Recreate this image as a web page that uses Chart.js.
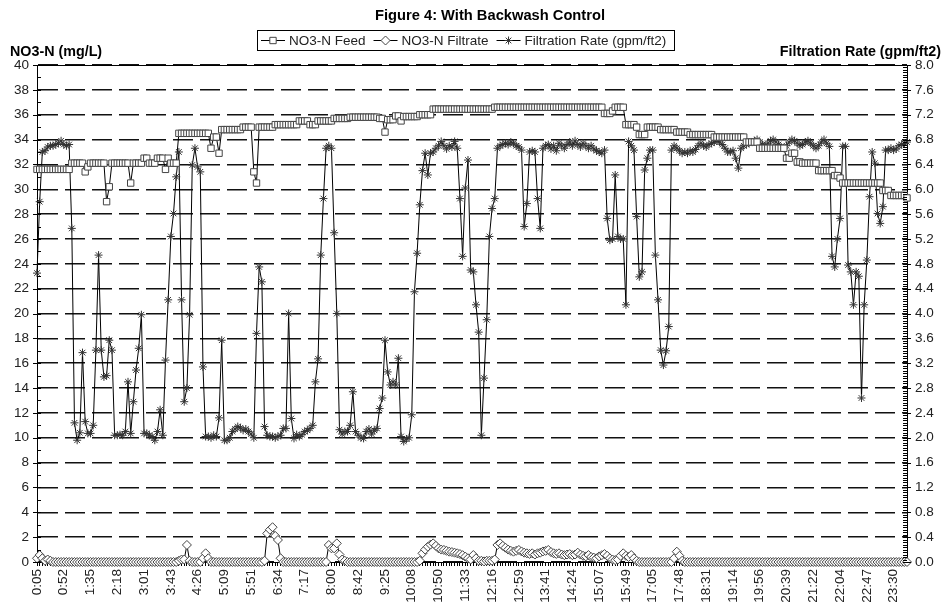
<!DOCTYPE html>
<html>
<head>
<meta charset="utf-8">
<title>Figure 4: With Backwash Control</title>
<script src="https://cdn.jsdelivr.net/npm/chart.js@4.4.1/dist/chart.umd.min.js"></script>
<style>
  html, body { margin: 0; padding: 0; background: #fff; }
  #wrap { width: 942px; height: 611px; }
</style>
</head>
<body>
<div id="wrap"><canvas id="chart" width="942" height="611"></canvas></div>
<script>
// Figure 4 — NO3-N in feed and filtrate plus filtration rate over one day, backwash control on.

const TXT = "#222";
const FONT = "'Liberation Sans', Arial, sans-serif";

// one time label is printed for every ten samples
const LABEL_EVERY = 10;
const TICK_LABELS = [
  "0:05", "0:52", "1:35", "2:18", "3:01", "3:43", "4:26", "5:09", "5:51", "6:34",
  "7:17", "8:00", "8:42", "9:25", "10:08", "10:50", "11:33", "12:16", "12:59", "13:41",
  "14:24", "15:07", "15:49", "17:05", "17:48", "18:31", "19:14", "19:56", "20:39", "21:22",
  "22:04", "22:47", "23:30",
];

// NO3-N feed, mg/L (left axis)
const FEED = [
  31.6, 31.6, 31.6, 31.6, 31.6, 31.6, 31.6, 31.6, 31.6, 31.6,
  31.6, 31.6, 31.6, 32.1, 32.1, 32.1, 32.1, 32.1, 31.4, 31.8,
  32.1, 32.1, 32.1, 32.1, 32.1, 32.1, 29.0, 30.2, 32.1, 32.1,
  32.1, 32.1, 32.1, 32.1, 32.1, 30.5, 32.1, 32.1, 32.1, 32.1,
  32.5, 32.5, 32.1, 32.1, 32.1, 32.5, 32.5, 32.5, 31.6, 32.5,
  32.1, 32.1, 32.1, 34.5, 34.5, 34.5, 34.5, 34.5, 34.5, 34.5,
  34.5, 34.5, 34.5, 34.5, 34.5, 33.3, 34.2, 34.2, 32.9, 34.8,
  34.8, 34.8, 34.8, 34.8, 34.8, 34.8, 34.8, 35.0, 35.0, 35.0,
  35.0, 31.4, 30.5, 35.0, 35.0, 35.0, 35.0, 35.0, 35.0, 35.2,
  35.2, 35.2, 35.2, 35.2, 35.2, 35.2, 35.2, 35.2, 35.5, 35.5,
  35.5, 35.5, 35.2, 35.2, 35.2, 35.5, 35.5, 35.5, 35.5, 35.5,
  35.5, 35.7, 35.7, 35.7, 35.7, 35.7, 35.7, 35.8, 35.8, 35.8,
  35.8, 35.8, 35.8, 35.8, 35.8, 35.8, 35.8, 35.8, 35.7, 35.7,
  34.6, 35.6, 35.6, 35.6, 35.9, 35.9, 35.5, 35.85, 35.85, 35.85,
  35.85, 35.85, 35.85, 36.0, 36.0, 36.0, 36.0, 36.0, 36.45, 36.45,
  36.45, 36.45, 36.45, 36.45, 36.45, 36.45, 36.45, 36.45, 36.45, 36.45,
  36.45, 36.45, 36.45, 36.45, 36.45, 36.45, 36.45, 36.45, 36.45, 36.45,
  36.45, 36.6, 36.6, 36.6, 36.6, 36.6, 36.6, 36.6, 36.6, 36.6,
  36.6, 36.6, 36.6, 36.6, 36.6, 36.6, 36.6, 36.6, 36.6, 36.6,
  36.6, 36.6, 36.6, 36.6, 36.6, 36.6, 36.6, 36.6, 36.6, 36.6,
  36.6, 36.6, 36.6, 36.6, 36.6, 36.6, 36.6, 36.6, 36.6, 36.6,
  36.6, 36.6, 36.1, 36.1, 36.1, 36.3, 36.6, 36.6, 36.6, 36.6,
  35.2, 35.2, 35.2, 35.2, 35.0, 34.4, 34.4, 34.4, 35.0, 35.0,
  35.0, 35.0, 35.0, 34.8, 34.8, 34.8, 34.8, 34.8, 34.8, 34.6,
  34.6, 34.6, 34.6, 34.6, 34.4, 34.4, 34.4, 34.4, 34.4, 34.4,
  34.4, 34.4, 34.4, 34.2, 34.2, 34.2, 34.2, 34.2, 34.2, 34.2,
  34.2, 34.2, 34.2, 34.2, 34.2, 33.8, 33.8, 33.8, 33.8, 33.8,
  33.3, 33.3, 33.3, 33.3, 33.3, 33.3, 33.3, 33.3, 33.3, 33.3,
  32.5, 32.5, 32.9, 32.9, 32.2, 32.2, 32.1, 32.1, 32.1, 32.1,
  32.1, 32.1, 31.5, 31.5, 31.5, 31.5, 31.5, 31.5, 31.1, 31.1,
  30.9, 30.5, 30.5, 30.5, 30.5, 30.5, 30.5, 30.5, 30.5, 30.5,
  30.5, 30.5, 30.5, 30.5, 30.5, 30.5, 29.9, 29.9, 29.9, 29.5,
  29.5, 29.5, 29.5, 29.5, 29.5, 29.3,
];

// NO3-N filtrate, mg/L (left axis)
const FILTRATE = [
  0.3, 0.56, 0.3, 0.1, 0.2, 0.1, 0, 0, 0, 0,
  0, 0, 0, 0, 0, 0, 0, 0, 0, 0,
  0, 0, 0, 0, 0, 0, 0, 0, 0, 0,
  0, 0, 0, 0, 0, 0, 0, 0, 0, 0,
  0, 0, 0, 0, 0, 0, 0, 0, 0, 0,
  0, 0, 0, 0.1, 0.2, 0.2, 1.37, 0.1, 0, 0,
  0, 0, 0.3, 0.7, 0.3, 0, 0, 0, 0, 0,
  0, 0, 0, 0, 0, 0, 0, 0, 0, 0,
  0, 0, 0, 0, 0, 0.1, 2.3, 2.6, 2.8, 2.1,
  1.77, 0.3, 0, 0, 0, 0, 0, 0, 0, 0,
  0, 0, 0, 0, 0, 0, 0, 0, 0, 1.37,
  1.1, 1.1, 1.5, 0.6, 0.2, 0.1, 0, 0, 0, 0,
  0, 0, 0, 0, 0, 0, 0, 0, 0, 0,
  0, 0, 0, 0, 0, 0, 0, 0, 0, 0,
  0, 0, 0, 0.1, 0.7, 1.0, 1.23, 1.4, 1.5, 1.3,
  1.1, 1.0, 0.97, 0.9, 0.83, 0.8, 0.75, 0.7, 0.64, 0.55,
  0.43, 0.3, 0.2, 0.56, 0.3, 0.1, 0.1, 0.05, 0.1, 0.1,
  0.1, 0.2, 1.37, 1.5, 1.3, 1.15, 1.0, 0.9, 0.83, 0.9,
  0.97, 0.85, 0.75, 0.7, 0.65, 0.7, 0.6, 0.7, 0.75, 0.85,
  0.9, 0.97, 0.8, 0.7, 0.65, 0.7, 0.6, 0.55, 0.6, 0.64,
  0.55, 0.6, 0.75, 0.6, 0.5, 0.45, 0.56, 0.4, 0.35, 0.3,
  0.45, 0.55, 0.64, 0.5, 0.3, 0.2, 0.15, 0.2, 0.5, 0.7,
  0.5, 0.4, 0.56, 0.3, 0.1, 0, 0, 0, 0, 0,
  0, 0, 0, 0, 0, 0, 0, 0, 0.3, 0.83,
  0.5, 0.1, 0, 0, 0, 0, 0, 0, 0, 0,
  0, 0, 0, 0, 0, 0, 0, 0, 0, 0,
  0, 0, 0, 0, 0, 0, 0, 0, 0, 0,
  0, 0, 0, 0, 0, 0, 0, 0, 0, 0,
  0, 0, 0, 0, 0, 0, 0, 0, 0, 0,
  0, 0, 0, 0, 0, 0, 0, 0, 0, 0,
  0, 0, 0, 0, 0, 0, 0, 0, 0, 0,
  0, 0, 0, 0, 0, 0, 0, 0, 0, 0,
  0, 0, 0, 0, 0, 0,
];

// filtration rate, gpm/ft2 (right axis)
const RATE = [
  4.65, 5.8, 6.6, 6.62, 6.68, 6.7, 6.7, 6.72, 6.74, 6.78,
  6.72, 6.7, 6.72, 5.37, 2.24, 1.96, 2.08, 3.37, 2.26, 2.07,
  2.07, 2.2, 3.41, 4.94, 3.41, 2.98, 3.0, 3.57, 3.41, 2.04,
  2.04, 2.05, 2.04, 2.1, 2.9, 2.07, 2.58, 3.09, 3.44, 3.98,
  2.07, 2.07, 2.04, 2.02, 1.96, 2.1, 2.45, 2.04, 3.25, 4.22,
  5.24, 5.61, 6.2, 6.6, 4.22, 2.58, 2.8, 3.98, 6.39, 6.66,
  6.36, 6.28, 3.14, 2.02, 2.02, 2.0, 2.04, 2.02, 2.32, 3.57,
  1.96, 1.96, 2.0, 2.1, 2.14, 2.18, 2.16, 2.12, 2.14, 2.1,
  2.06, 2.0, 3.68, 4.75, 4.51, 2.18, 2.04, 2.02, 2.02, 2.0,
  2.02, 2.04, 2.15, 2.15, 4.0, 2.31, 1.99, 2.05, 2.02, 2.05,
  2.1, 2.12, 2.15, 2.2, 2.9, 3.27, 4.94, 5.85, 6.66, 6.7,
  6.66, 5.3, 4.0, 2.13, 2.06, 2.1, 2.1, 2.2, 2.74, 2.1,
  2.04, 2.0, 1.99, 2.1, 2.14, 2.06, 2.12, 2.15, 2.47, 2.64,
  3.57, 3.06, 2.85, 2.9, 2.85, 3.28, 2.02, 1.94, 1.98, 2.0,
  2.37, 4.35, 4.97, 5.75, 6.3, 6.58, 6.23, 6.58, 6.6, 6.66,
  6.7, 6.77, 6.7, 6.65, 6.7, 6.68, 6.77, 6.66, 5.85, 4.92,
  6.02, 6.47, 4.7, 4.67, 4.14, 3.7, 2.04, 2.96, 3.9, 5.24,
  5.69, 5.85, 6.66, 6.7, 6.72, 6.74, 6.72, 6.76, 6.74, 6.7,
  6.68, 6.63, 5.4, 5.77, 6.6, 6.62, 6.6, 5.85, 5.37, 6.66,
  6.7, 6.72, 6.65, 6.7, 6.62, 6.74, 6.7, 6.66, 6.72, 6.76,
  6.7, 6.78, 6.72, 6.68, 6.74, 6.7, 6.66, 6.7, 6.65, 6.62,
  6.6, 6.58, 6.63, 5.53, 5.18, 5.2, 6.23, 5.24, 5.2, 5.2,
  4.14, 6.77, 6.7, 6.63, 5.56, 4.59, 4.67, 6.31, 6.5, 6.63,
  6.63, 4.94, 4.22, 3.41, 3.17, 3.4, 3.79, 6.63, 6.7, 6.66,
  6.62, 6.58, 6.6, 6.58, 6.62, 6.6, 6.64, 6.7, 6.74, 6.7,
  6.68, 6.72, 6.74, 6.76, 6.78, 6.76, 6.72, 6.66, 6.6, 6.6,
  6.62, 6.5, 6.34, 6.66, 6.7, 6.72, 6.74, 6.76, 6.78, 6.8,
  6.76, 6.72, 6.7, 6.74, 6.78, 6.8, 6.76, 6.72, 6.68, 6.66,
  6.7, 6.76, 6.8, 6.78, 6.74, 6.7, 6.72, 6.76, 6.78, 6.74,
  6.7, 6.66, 6.7, 6.76, 6.8, 6.74, 6.69, 4.92, 4.75, 5.2,
  5.53, 6.69, 6.69, 4.78, 4.67, 4.14, 4.67, 4.6, 2.64, 4.14,
  4.86, 5.88, 6.6, 6.42, 5.61, 5.45, 5.72, 6.63, 6.63, 6.66,
  6.63, 6.65, 6.7, 6.72, 6.74, 6.76,
];

// category list: a time label on every tenth sample, blank otherwise
const CATEGORIES = FEED.map((_, i) => (i % LABEL_EVERY === 0 ? TICK_LABELS[i / LABEL_EVERY] || "" : ""));

function markerSample(ctx, ds, x, y, half) {
  ctx.save();
  ctx.strokeStyle = "#000";
  ctx.lineWidth = 1;
  ctx.beginPath();
  ctx.moveTo(x - half, y + 0.5);
  ctx.lineTo(x + half, y + 0.5);
  ctx.stroke();
  ctx.fillStyle = ds.pointBackgroundColor;
  ctx.strokeStyle = ds.pointBorderColor;
  ctx.lineWidth = ds.pointBorderWidth;
  Chart.helpers.drawPoint(ctx, { pointStyle: ds.pointStyle, radius: ds.pointRadius, rotation: 0, borderWidth: 1 }, x, y + 0.5);
  ctx.restore();
}

const decor = {
  id: "decor",
  afterDraw(chart) {
    const { ctx, chartArea: a, scales } = chart;
    ctx.save();

    // solid frame line along the top value (40 / 8.0)
    ctx.strokeStyle = "#000";
    ctx.lineWidth = 1;
    ctx.beginPath();
    ctx.moveTo(a.left, Math.round(a.top) + 0.5);
    ctx.lineTo(a.right, Math.round(a.top) + 0.5);
    ctx.stroke();

    // tick marks on both value axes
    const yl = scales.y, yr = scales.y1;
    ctx.beginPath();
    for (let v = 0; v <= 40; v += 1) {
      const py = Math.round(yl.getPixelForValue(v)) + 0.5;
      const major = v % 2 === 0;
      ctx.moveTo(a.left - (major ? 4 : 0), py);
      ctx.lineTo(a.left + 4, py);
    }
    for (let k = 0; k <= 200; k++) {
      const py = Math.round(yr.getPixelForValue(k * 0.04)) + 0.5;
      const major = k % 10 === 0;
      ctx.moveTo(a.right - 4, py);
      ctx.lineTo(a.right + (major ? 4 : 0), py);
    }
    ctx.stroke();

    // title and axis titles
    ctx.fillStyle = "#000";
    ctx.textBaseline = "alphabetic";
    ctx.font = "bold 14.7px " + FONT;
    ctx.textAlign = "center";
    ctx.fillText("Figure 4: With Backwash Control", 490, 20);
    ctx.font = "bold 14.3px " + FONT;
    ctx.textAlign = "left";
    ctx.fillText("NO3-N (mg/L)", 10, 56);
    ctx.textAlign = "right";
    ctx.fillText("Filtration Rate (gpm/ft2)", 941, 56);

    // legend box
    ctx.font = "13.5px " + FONT;
    const sets = chart.data.datasets;
    const sampleW = 30, gap = 6;
    let total = 4;
    for (const ds of sets) total += sampleW + ctx.measureText(ds.label).width + gap;
    const bx = Math.round(466 - total / 2), by = 30, bh = 20;
    ctx.strokeStyle = "#000";
    ctx.lineWidth = 1;
    ctx.strokeRect(bx + 0.5, by + 0.5, Math.round(total), bh);
    let x = bx + 3;
    const cy = by + bh / 2;
    for (const ds of sets) {
      markerSample(ctx, ds, x + 13, cy, 12);
      x += sampleW;
      ctx.fillStyle = TXT;
      ctx.textAlign = "left";
      ctx.textBaseline = "middle";
      ctx.fillText(ds.label, x - 1, cy + 1);
      x += ctx.measureText(ds.label).width + gap;
    }
    ctx.restore();
  },
};

const tickFont = { family: FONT, size: 13.5 };

new Chart(document.getElementById("chart"), {
  type: "line",
  data: {
    labels: CATEGORIES,
    datasets: [
      {
        label: "NO3-N Feed",
        data: FEED,
        yAxisID: "y",
        borderColor: "#000",
        borderWidth: 1,
        pointStyle: "rect",
        pointRadius: 4.5,
        pointBorderWidth: 1,
        pointBorderColor: "#444",
        pointBackgroundColor: "#fff",
        tension: 0,
        clip: false,
      },
      {
        label: "NO3-N Filtrate",
        data: FILTRATE,
        yAxisID: "y",
        borderColor: "#000",
        borderWidth: 1,
        pointStyle: "rectRot",
        pointRadius: 4.5,
        pointBorderWidth: 1,
        pointBorderColor: "#444",
        pointBackgroundColor: "#fff",
        tension: 0,
        clip: false,
      },
      {
        label: "Filtration Rate (gpm/ft2)",
        data: RATE,
        yAxisID: "y1",
        borderColor: "#000",
        borderWidth: 1,
        pointStyle: "star",
        pointRadius: 4,
        pointBorderWidth: 1,
        pointBorderColor: "#333",
        pointBackgroundColor: "#333",
        tension: 0,
        clip: false,
      },
    ],
  },
  options: {
    responsive: false,
    animation: false,
    events: [],
    layout: { padding: { top: 65, left: 0, right: 0, bottom: 0 } },
    plugins: {
      legend: { display: false },
      title: { display: false },
      tooltip: { enabled: false },
    },
    scales: {
      x: {
        type: "category",
        offset: false,
        afterFit: (s) => { s.height = 49; },
        grid: { display: true, drawOnChartArea: false, drawTicks: true, tickLength: 4, tickColor: "#000", tickWidth: 1 },
        border: { display: true, color: "#000", width: 1 },
        ticks: { autoSkip: false, minRotation: 90, maxRotation: 90, padding: 3, color: TXT, font: tickFont },
      },
      y: {
        position: "left",
        min: 0,
        max: 40,
        afterFit: (s) => { s.width = 37; },
        ticks: { stepSize: 2, padding: 8, color: TXT, font: tickFont },
        grid: { color: "#111", lineWidth: 1.5, drawTicks: false },
        border: { display: true, color: "#000", width: 1, dash: [20, 7] },
      },
      y1: {
        position: "right",
        min: 0,
        max: 8,
        afterFit: (s) => { s.width = 35; },
        ticks: { stepSize: 0.4, padding: 8, color: TXT, font: tickFont, callback: (v) => Number(v).toFixed(1) },
        grid: { display: false, drawTicks: false },
        border: { display: true, color: "#000", width: 1 },
      },
    },
  },
  plugins: [decor],
});
</script>
</body>
</html>
